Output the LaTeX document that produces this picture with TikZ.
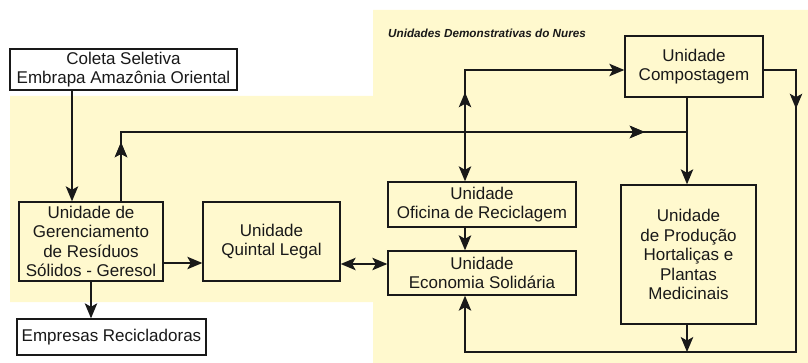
\documentclass[tikz,border=0pt]{standalone}
\usepackage{fontspec}
\setmainfont{Liberation Sans}
\usetikzlibrary{arrows.meta,decorations.markings}
\definecolor{bgyel}{RGB}{255,249,206}
\definecolor{ink}{RGB}{25,25,25}
\tikzset{atip/.tip={Stealth[length=15pt,width=12.5pt,inset=3.5pt]}}
\begin{document}
\begin{tikzpicture}[x=1pt,y=-1pt,
  box/.style={draw=ink,line width=1.4pt,inner sep=0pt,align=center,
    font=\fontsize{17}{19.5}\selectfont,text=ink},
  wbox/.style={box,fill=white},
  conn/.style={draw=ink,line width=1.2pt},
  tip/.style={-atip},
  both/.style={atip-atip},
  midtip/.style={postaction={decorate},decoration={markings,
    mark=at position #1 with {\arrow{atip}}}}
]
\useasboundingbox (0,0) rectangle (808,363);
% background
\fill[bgyel] (10,96) -- (373,96) -- (373,10) -- (808,10) -- (808,363) -- (373,363) -- (373,302) -- (10,302) -- cycle;
\node[anchor=base west,font=\fontsize{11.7}{13}\selectfont\bfseries\itshape,text=ink,inner sep=0pt] (title) at (388,38) {Unidades Demonstrativas do Nures};
% boxes
\node[wbox,minimum width=227pt,minimum height=41pt] (coleta) at (123.5,69.5) {Coleta Seletiva\\Embrapa Amazônia Oriental};
\node[box,minimum width=144pt,minimum height=79pt] (geresol) at (91,241.5) {Unidade de\\Gerenciamento\\de Resíduos\\Sólidos - Geresol};
\node[wbox,minimum width=189pt,minimum height=36pt] (empresas) at (111.5,337) {Empresas Recicladoras};
\node[box,minimum width=137pt,minimum height=79pt] (quintal) at (271.5,241.5) {Unidade\\Quintal Legal};
\node[box,minimum width=188pt,minimum height=45pt] (oficina) at (482,204.5) {Unidade\\Oficina de Reciclagem};
\node[box,minimum width=188pt,minimum height=44pt] (economia) at (482,273) {Unidade\\Economia Solidária};
\node[box,minimum width=138pt,minimum height=61pt] (compost) at (694,66.5) {Unidade\\Compostagem};
\node[box,minimum width=135pt,minimum height=139pt] (producao) at (688.5,254.5) {Unidade\\de Produção\\Hortaliças e\\Plantas\\Medicinais};
% junction coordinates
\coordinate (j1) at (687,132);
\coordinate (j2) at (687,352);
% connectors
\draw[conn,tip] (coleta.south -| 72,0) -- (geresol.north -| 72,0);
\draw[conn,tip] (geresol.south -| 91,0) -- (empresas.north -| 91,0);
\draw[conn,tip] (geresol.east |- 0,263) -- (quintal.west |- 0,263);
\draw[conn,both] (quintal.east |- 0,264) -- (economia.west |- 0,264);
\draw[conn,midtip=59pt,midtip=593pt] (geresol.north -| 121,0) -- (121,132) -- (j1);
\draw[conn,tip] (compost.south -| 687,0) -- (producao.north -| 687,0);
\draw[conn,tip] (producao.south -| 687,0) -- (j2);
\draw[conn,tip,midtip=71pt] (compost.east |- 0,70) -- (796,70) -- (796,352) -- (465,352) -- (economia.south -| 465,0);
\draw[conn,both,midtip=89pt] (oficina.north -| 465,0) -- (465,70) -- (compost.west |- 0,70);
\draw[conn,tip] (oficina.south -| 465,0) -- (economia.north -| 465,0);
\end{tikzpicture}
\end{document}
